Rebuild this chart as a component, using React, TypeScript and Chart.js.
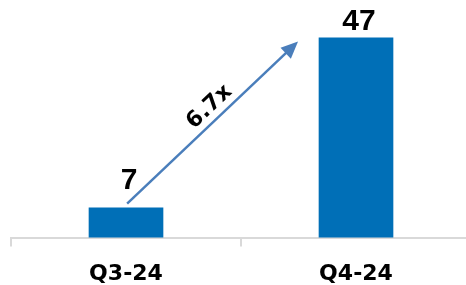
import React, { useEffect, useRef } from "react";
import { Chart, registerables } from "chart.js";

Chart.register(...registerables);

const categories: string[] = ["Q3-24", "Q4-24"];
const values: number[] = [7, 47];
const labelGaps: number[] = [19, 8];
// arrow annotation endpoints in data units: [category index, value]
const arrowFrom: [number, number] = [0.005, 8];
const arrowTo: [number, number] = [0.748, 46.1];

const BAR_COLOR = "#006fb7";
const ARROW_COLOR = "#4a7ebb";
const AXIS_COLOR = "#d9d9d9";

const growthLabel = (values[1] / values[0]).toFixed(1) + "x";

const overlayPlugin = {
  id: "overlay",
  afterDatasetsDraw(chart: any) {
    const ctx = chart.ctx as CanvasRenderingContext2D;
    const meta = chart.getDatasetMeta(0);
    const xs = chart.scales.x;
    const ys = chart.scales.y;
    ctx.save();
    // value labels
    ctx.fillStyle = "#000";
    ctx.font = "bold 30px 'Liberation Sans', Arial, sans-serif";
    ctx.textAlign = "center";
    ctx.textBaseline = "alphabetic";
    meta.data.forEach((bar: any, i: number) => {
      ctx.fillText(String(values[i]), bar.x + 3, bar.y - labelGaps[i]);
    });
    // arrow
    const x1 = xs.getPixelForValue(arrowFrom[0]);
    const y1 = ys.getPixelForValue(arrowFrom[1]);
    const x2 = xs.getPixelForValue(arrowTo[0]);
    const y2 = ys.getPixelForValue(arrowTo[1]);
    const ang = Math.atan2(y2 - y1, x2 - x1);
    const headLen = 17;
    const headHalf = 7.5;
    const bx = x2 - headLen * Math.cos(ang);
    const by = y2 - headLen * Math.sin(ang);
    ctx.strokeStyle = ARROW_COLOR;
    ctx.lineWidth = 2.5;
    ctx.beginPath();
    ctx.moveTo(x1, y1);
    ctx.lineTo(bx + 2 * Math.cos(ang), by + 2 * Math.sin(ang));
    ctx.stroke();
    ctx.fillStyle = ARROW_COLOR;
    ctx.beginPath();
    ctx.moveTo(x2, y2);
    ctx.lineTo(bx + headHalf * Math.sin(ang), by - headHalf * Math.cos(ang));
    ctx.lineTo(bx - headHalf * Math.sin(ang), by + headHalf * Math.cos(ang));
    ctx.closePath();
    ctx.fill();
    // growth label
    const mx = (x1 + x2) / 2;
    const my = (y1 + y2) / 2;
    ctx.translate(mx, my);
    ctx.rotate(ang);
    ctx.fillStyle = "#000";
    ctx.font = "bold 22px 'DejaVu Sans', sans-serif";
    ctx.textAlign = "center";
    ctx.textBaseline = "middle";
    ctx.fillText(growthLabel, 8.5, -13.5);
    ctx.restore();
  },
};

export default function App() {
  const ref = useRef<HTMLCanvasElement | null>(null);
  useEffect(() => {
    if (!ref.current) return;
    const chart = new Chart(ref.current, {
      type: "bar",
      data: {
        labels: categories,
        datasets: [
          {
            data: values,
            backgroundColor: BAR_COLOR,
            barThickness: 74,
          },
        ],
      },
      options: {
        responsive: false,
        animation: false,
        layout: { padding: { left: 11, right: 0, top: 25, bottom: 0 } },
        plugins: {
          legend: { display: false },
          tooltip: { enabled: false },
        },
        scales: {
          x: {
            grid: {
              display: true,
              drawOnChartArea: false,
              drawTicks: true,
              tickLength: 9,
              color: AXIS_COLOR,
              lineWidth: 2,
              offset: true,
            },
            border: { display: true, color: AXIS_COLOR, width: 2 },
            ticks: {
              color: "#000",
              padding: 14,
              font: { family: "'DejaVu Sans', sans-serif", size: 22, weight: "bold" },
            },
          },
          y: {
            display: false,
            min: 0,
            max: 50,
          },
        },
      },
      plugins: [overlayPlugin],
    });
    return () => chart.destroy();
  }, []);
  return (
    <div style={{ position: "fixed", left: 0, top: 0, width: 466, height: 285, overflow: "hidden", background: "#fff" }}>
      <canvas ref={ref} width={471} height={301} />
    </div>
  );
}
